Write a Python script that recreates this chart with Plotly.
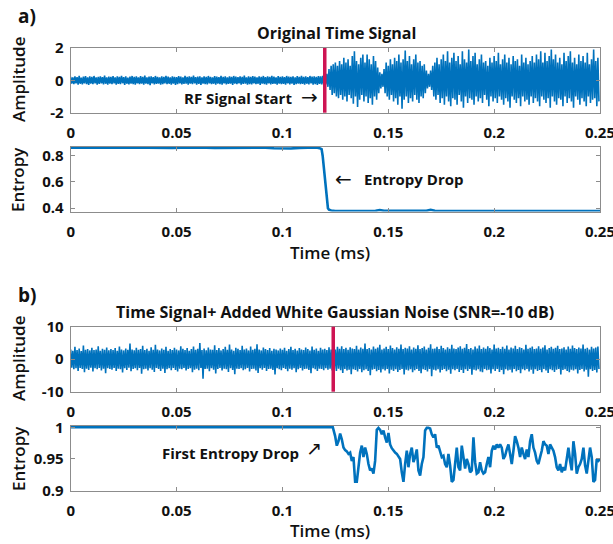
import plotly.graph_objects as go

W, H = 613, 544

# ---------------- data ----------------
TIME_TICKS = [0, 0.05, 0.1, 0.15, 0.2, 0.25]
TIME_TICK_LABELS = ["0", "0.05", "0.1", "0.15", "0.2", "0.25"]
BIN_MS = 0.001  # width of one min/max bin of the waveforms (ms)

# (a) original signal: per-bin max / min, 0 .. 0.249 ms
AMP_A_HI = [
    0.22, 0.18, 0.25, 0.20, 0.28, 0.17, 0.23, 0.26, 0.19, 0.24,
    0.21, 0.27, 0.18, 0.22, 0.25, 0.20, 0.30, 0.19, 0.23, 0.21,
    0.26, 0.18, 0.24, 0.22, 0.28, 0.20, 0.25, 0.17, 0.23, 0.27,
    0.21, 0.24, 0.19, 0.26, 0.22, 0.29, 0.18, 0.23, 0.25, 0.20,
    0.27, 0.22, 0.19, 0.24, 0.21, 0.28, 0.23, 0.18, 0.25, 0.22,
    0.20, 0.26, 0.23, 0.19, 0.27, 0.21, 0.24, 0.22, 0.30, 0.20,
    0.23, 0.25, 0.18, 0.24, 0.21, 0.27, 0.22, 0.19, 0.26, 0.23,
    0.20, 0.28, 0.22, 0.25, 0.19, 0.24, 0.21, 0.27, 0.23, 0.20,
    0.25, 0.22, 0.29, 0.19, 0.24, 0.21, 0.26, 0.23, 0.18, 0.25,
    0.22, 0.27, 0.20, 0.24, 0.21, 0.28, 0.23, 0.19, 0.26, 0.22,
    0.25, 0.20, 0.27, 0.23, 0.21, 0.24, 0.19, 0.26, 0.22, 0.28,
    0.21, 0.24, 0.20, 0.27, 0.23, 0.25, 0.22, 0.26, 0.24, 0.28,
    0.25, 0.4, 0.7, 0.9, 1.0, 1.1, 0.9, 1.2, 1.0, 1.4,
    1.1, 1.3, 0.9, 1.5, 1.8, 1.2, 1.0, 1.4, 1.6, 1.1,
    1.6, 1.3, 1.0, 1.5, 1.2, 0.8, 0.5, 0.4, 0.7, 1.1,
    0.9, 1.3, 1.0, 1.4, 1.2, 1.6, 1.1, 1.3, 1.85, 1.2,
    1.5, 1.0, 1.3, 1.6, 1.1, 1.2, 0.9, 1.0, 0.6, 0.4,
    0.6, 0.9, 1.1, 1.4, 1.0, 1.3, 1.6, 1.2, 1.8, 1.1,
    1.4, 1.7, 1.2, 1.5, 1.0, 1.8, 1.3, 1.1, 1.9, 1.2,
    1.5, 1.7, 1.0, 1.3, 1.6, 1.1, 1.2, 0.9, 1.4, 1.1,
    1.5, 1.2, 1.7, 1.0, 1.3, 1.6, 1.1, 1.4, 1.0, 1.5,
    1.2, 1.3, 0.9, 1.6, 1.1, 1.4, 1.0, 1.2, 1.5, 1.1,
    1.6, 1.3, 1.8, 1.1, 1.7, 1.2, 1.5, 1.9, 1.3, 1.6,
    1.1, 1.4, 1.0, 1.7, 1.2, 1.5, 1.8, 1.1, 1.4, 1.0,
    1.6, 1.2, 1.5, 1.1, 1.7, 1.0, 1.3, 1.9, 1.2, 1.4,
]
AMP_A_LO = [
    -0.20, -0.24, -0.18, -0.27, -0.21, -0.25, -0.19, -0.23, -0.28, -0.20,
    -0.24, -0.19, -0.26, -0.22, -0.18, -0.25, -0.21, -0.27, -0.20, -0.23,
    -0.19, -0.26, -0.22, -0.24, -0.18, -0.28, -0.21, -0.25, -0.20, -0.23,
    -0.27, -0.19, -0.24, -0.21, -0.26, -0.20, -0.23, -0.29, -0.19, -0.25,
    -0.22, -0.20, -0.27, -0.23, -0.19, -0.24, -0.21, -0.26, -0.20, -0.28,
    -0.23, -0.19, -0.25, -0.22, -0.20, -0.27, -0.21, -0.24, -0.19, -0.26,
    -0.22, -0.28, -0.20, -0.23, -0.25, -0.19, -0.24, -0.21, -0.27, -0.20,
    -0.23, -0.26, -0.19, -0.25, -0.22, -0.20, -0.28, -0.21, -0.24, -0.19,
    -0.26, -0.22, -0.20, -0.27, -0.23, -0.25, -0.19, -0.24, -0.21, -0.28,
    -0.20, -0.23, -0.26, -0.19, -0.25, -0.22, -0.21, -0.27, -0.20, -0.24,
    -0.22, -0.26, -0.19, -0.25, -0.21, -0.28, -0.23, -0.20, -0.24, -0.22,
    -0.27, -0.21, -0.25, -0.19, -0.26, -0.23, -0.28, -0.22, -0.25, -0.27,
    -0.25, -0.4, -0.6, -0.9, -0.8, -1.0, -1.1, -0.9, -1.2, -1.0,
    -1.3, -0.9, -1.1, -1.45, -1.0, -1.65, -1.2, -0.9, -1.3, -1.0,
    -1.4, -1.1, -1.5, -1.0, -1.2, -0.8, -0.5, -0.4, -0.8, -1.0,
    -1.2, -0.9, -1.3, -1.1, -1.5, -1.0, -1.75, -1.2, -1.0, -1.4,
    -1.1, -1.3, -0.9, -1.2, -1.4, -1.0, -1.1, -0.8, -0.5, -0.4,
    -0.6, -1.0, -1.2, -0.9, -1.4, -1.1, -1.5, -1.0, -1.3, -1.6,
    -1.1, -1.2, -1.5, -0.9, -1.3, -1.7, -1.0, -1.4, -1.1, -1.2,
    -1.5, -1.0, -1.3, -1.1, -1.4, -0.9, -1.2, -1.6, -1.0, -1.3,
    -1.1, -1.4, -1.0, -1.2, -1.5, -1.1, -1.3, -1.7, -1.0, -1.2,
    -1.4, -1.1, -1.6, -1.0, -1.3, -1.2, -1.5, -1.0, -1.4, -1.1,
    -1.3, -1.6, -1.0, -1.2, -1.4, -1.1, -1.7, -1.0, -1.3, -1.5,
    -1.1, -1.2, -1.6, -1.0, -1.4, -1.1, -1.3, -1.7, -1.0, -1.2,
    -1.5, -1.1, -1.3, -1.6, -1.0, -1.4, -1.2, -1.1, -1.6, -1.3,
]

# (b) signal + white gaussian noise: per-bin max / min, 0 .. 0.249 ms
AMP_B_HI = [
    3.0, 2.6, 3.8, 2.8, 3.3, 2.5, 4.2, 2.9, 3.1, 2.7,
    3.5, 2.8, 3.0, 4.0, 2.6, 3.2, 2.9, 3.6, 2.7, 3.1,
    2.8, 3.4, 2.6, 3.9, 3.0, 2.7, 3.3, 2.9, 4.8, 3.0,
    2.7, 3.5, 2.9, 3.1, 4.1, 2.8, 3.2, 2.6, 3.7, 2.9,
    4.4, 3.0, 2.7, 3.3, 2.9, 3.8, 2.6, 3.1, 2.8, 3.5,
    3.0, 2.7, 4.0, 3.2, 2.8, 3.4, 2.6, 3.1, 3.9, 2.9,
    3.2, 5.0, 2.8, 3.3, 2.7, 3.6, 3.0, 2.9, 4.3, 2.8,
    3.4, 2.7, 3.1, 3.8, 2.9, 4.5, 3.0, 2.6, 3.5, 3.2,
    2.8, 4.1, 3.0, 3.3, 2.7, 3.9, 2.9, 3.2, 4.6, 3.0,
    2.7, 3.6, 3.1, 2.8, 3.4, 2.6, 3.2, 3.0, 2.7, 3.3,
    2.9, 3.5, 2.6, 3.1, 3.8, 2.8, 3.2, 2.7, 3.4, 3.0,
    2.8, 3.6, 3.1, 2.7, 3.9, 2.9, 3.3, 2.6, 3.5, 3.0,
    3.2, 2.8, 3.7, 3.0,
    3.3, 3.0, 3.8, 3.2, 4.0, 3.1, 3.5, 2.9, 3.7, 3.3,
    3.1, 4.1, 3.0, 3.6, 3.2, 4.8, 3.1, 3.4, 3.0, 3.9,
    3.2, 3.6, 4.4, 3.0, 3.3, 3.8, 3.1, 4.2, 3.4, 3.0,
    3.7, 3.2, 4.5, 3.1, 3.5, 3.3, 4.0, 3.0, 3.6, 3.2,
    4.3, 3.1, 3.4, 3.9, 3.0, 3.5, 4.6, 3.2, 3.3, 3.8,
    3.1, 4.1, 3.4, 3.0, 3.7, 3.2, 4.4, 3.3, 3.1, 3.6,
    4.0, 3.2, 3.5, 4.7, 3.1, 3.4, 3.0, 3.9, 3.3, 4.2,
    3.1, 3.6, 3.2, 4.0, 3.4, 3.0, 4.5, 3.3, 3.5, 3.1,
    3.8, 3.2, 4.2, 3.0, 3.6, 3.3, 4.1, 3.1, 3.7, 3.4,
    3.0, 4.4, 3.2, 3.5, 3.9, 3.1, 3.3, 4.0, 3.2, 3.6,
    4.3, 3.0, 3.4, 3.8, 3.2, 3.5, 4.1, 3.1, 3.3, 3.7,
    3.0, 3.9, 3.2, 4.2, 3.4, 3.1, 3.6, 3.3, 4.5, 3.2,
    3.5, 3.0, 3.8, 3.3, 3.6, 3.9,
]
AMP_B_LO = [
    -2.6, -3.1, -2.8, -3.6, -2.7, -3.0, -4.0, -2.9, -3.3, -2.6,
    -3.8, -2.8, -3.1, -2.7, -3.5, -2.9, -4.3, -2.8, -3.0, -3.2,
    -2.7, -3.6, -2.9, -3.1, -4.1, -2.8, -3.3, -2.6, -3.7, -3.0,
    -2.8, -3.4, -2.7, -4.5, -3.1, -2.9, -3.5, -2.8, -3.2, -3.9,
    -2.7, -3.0, -3.6, -2.9, -4.2, -3.1, -2.8, -3.4, -2.7, -3.3,
    -3.8, -2.9, -3.1, -2.7, -3.5, -3.0, -2.8, -4.0, -3.2, -2.9,
    -3.4, -2.7, -6.0, -3.0, -2.9, -3.7, -2.8, -3.2, -4.4, -3.0,
    -2.7, -3.5, -2.9, -3.1, -3.9, -2.8, -3.3, -4.6, -2.9, -3.0,
    -2.8, -3.4, -3.1, -2.7, -3.8, -3.0, -2.9, -3.5, -4.2, -2.8,
    -3.2, -2.7, -3.6, -3.0, -2.9, -3.3, -4.7, -2.8, -3.1, -3.4,
    -2.7, -3.0, -3.7, -2.9, -3.2, -2.8, -4.0, -3.1, -2.7, -3.5,
    -3.0, -2.9, -3.3, -4.3, -2.8, -3.1, -3.6, -2.9, -3.0, -3.4,
    -2.8, -3.2, -2.9, -3.5,
    -3.1, -3.6, -2.9, -3.4, -4.2, -3.0, -3.5, -3.2, -4.6, -3.1,
    -3.3, -3.8, -3.0, -4.0, -3.4, -3.1, -3.6, -4.9, -3.2, -3.0,
    -3.7, -3.3, -4.1, -3.1, -3.5, -3.0, -4.4, -3.2, -3.6, -3.1,
    -3.9, -3.3, -3.0, -4.7, -3.2, -3.5, -3.1, -4.0, -3.4, -3.0,
    -3.6, -4.3, -3.1, -3.3, -3.8, -3.0, -5.2, -3.2, -3.5, -3.1,
    -4.1, -3.3, -3.0, -3.7, -3.2, -4.5, -3.1, -3.4, -3.0, -3.9,
    -3.3, -4.2, -3.1, -3.6, -3.0, -4.8, -3.2, -3.5, -3.1, -3.8,
    -4.0, -3.0, -3.4, -3.2, -4.4, -3.1, -3.6, -3.0, -3.9, -3.3,
    -4.6, -3.1, -3.5, -3.2, -4.1, -3.0, -3.7, -3.3, -4.3, -3.1,
    -3.4, -3.0, -3.8, -3.2, -4.5, -3.1, -3.6, -3.3, -4.0, -3.0,
    -3.5, -4.2, -3.1, -3.4, -3.9, -3.2, -3.0, -4.7, -3.3, -3.1,
    -3.6, -4.0, -3.2, -3.5, -3.1, -4.4, -3.3, -3.0, -3.8, -3.2,
    -5.4, -3.1, -3.6, -3.3, -4.1, -3.0,
]

# (a) entropy
ENT_A_T = [
    0.000, 0.004, 0.008, 0.012, 0.016, 0.020, 0.024, 0.028, 0.032, 0.036,
    0.040, 0.044, 0.048, 0.052, 0.056, 0.060, 0.064, 0.068, 0.072, 0.076,
    0.080, 0.084, 0.088, 0.092, 0.096, 0.100, 0.104, 0.108, 0.112, 0.116,
    0.1175, 0.1185, 0.119, 0.1195, 0.120, 0.1205, 0.121, 0.1215, 0.122, 0.123, 0.125,
    0.128, 0.132, 0.136, 0.140, 0.144, 0.146, 0.148, 0.152, 0.156, 0.160,
    0.164, 0.168, 0.170, 0.172, 0.176, 0.180, 0.184, 0.188, 0.192, 0.196,
    0.200, 0.204, 0.208, 0.212, 0.216, 0.220, 0.224, 0.228, 0.232, 0.236,
    0.240, 0.244, 0.248, 0.250,
]
ENT_A_V = [
    0.860, 0.861, 0.860, 0.859, 0.861, 0.862, 0.860, 0.858, 0.860, 0.861,
    0.859, 0.857, 0.859, 0.861, 0.862, 0.861, 0.860, 0.859, 0.860, 0.861,
    0.860, 0.858, 0.859, 0.860, 0.856, 0.853, 0.855, 0.859, 0.861, 0.862,
    0.857, 0.850, 0.800, 0.720, 0.620, 0.520, 0.440, 0.400, 0.388, 0.382, 0.379,
    0.378, 0.379, 0.378, 0.379, 0.380, 0.386, 0.380, 0.379, 0.378, 0.379,
    0.378, 0.380, 0.388, 0.380, 0.379, 0.378, 0.379, 0.378, 0.379, 0.378,
    0.378, 0.379, 0.378, 0.379, 0.378, 0.379, 0.378, 0.378, 0.379, 0.378,
    0.379, 0.378, 0.379, 0.378,
]

# (b) entropy: flat part, then regularly spaced readings
ENT_B_FLAT_T = [0.0, 0.1238]
ENT_B_FLAT_V = [1.0, 1.0]
ENT_B_T0 = 0.1249
ENT_B_STEP = 0.000787
ENT_B_V = [
    0.986, 0.971, 0.978, 0.990, 0.981, 0.968, 0.964, 0.962, 0.958, 0.960,
    0.947, 0.953, 0.914, 0.914, 0.937, 0.960, 0.971, 0.953, 0.968, 0.958,
    0.942, 0.932, 0.935, 0.927, 0.947, 0.996, 0.999, 0.996, 0.989, 0.995,
    0.984, 0.976, 0.991, 0.973, 0.967, 0.963, 0.960, 0.958, 0.953, 0.950,
    0.929, 0.914, 0.942, 0.963, 0.937, 0.958, 0.968, 0.945, 0.953, 0.965,
    0.932, 0.924, 0.942, 0.953, 0.995, 0.999, 0.999, 0.998, 0.989, 0.984,
    0.989, 0.968, 0.971, 0.960, 0.953, 0.955, 0.942, 0.937, 0.958, 0.940,
    0.914, 0.917, 0.942, 0.968, 0.937, 0.932, 0.971, 0.953, 0.935, 0.950,
    0.942, 0.929, 0.932, 0.984, 0.945, 0.927, 0.929, 0.945, 0.932, 0.927,
    0.929, 0.942, 0.953, 0.937, 0.963, 0.971, 0.965, 0.973, 0.968, 0.973,
    0.968, 0.950, 0.955, 0.965, 0.973, 0.958, 0.942, 0.963, 0.986, 0.978,
    0.968, 0.953, 0.968, 0.958, 0.950, 0.965, 0.953, 0.978, 0.989, 0.968,
    0.960, 0.947, 0.942, 0.953, 0.963, 0.978, 0.973, 0.971, 0.958, 0.973,
    0.968, 0.963, 0.953, 0.937, 0.932, 0.942, 0.929, 0.937, 0.932, 0.947,
    0.968, 0.947, 0.932, 0.978, 0.958, 0.927, 0.937, 0.942, 0.950, 0.968,
    0.940, 0.927, 0.953, 0.968, 0.953, 0.914, 0.917, 0.950, 0.947, 0.950,
]

RF_START_A = 0.120
RF_START_B = 0.124

# ---------------- styling ----------------
BLUE = "#0072BD"
RED = "#CE1453"
FRAME = "#8c8c8c"
FONT = "Open Sans"


def zigzag(hi, lo):
    xs, ys = [], []
    n = min(len(hi), len(lo))
    for i in range(n):
        t = i * BIN_MS
        xs += [t, t + BIN_MS / 2]
        ys += [hi[i], lo[i]]
    return xs, ys


def px(x):
    return x / W


def py(y):
    return 1 - y / H


fig = go.Figure()

xa, ya = zigzag(AMP_A_HI, AMP_A_LO)
fig.add_trace(go.Scatter(x=xa, y=ya, mode="lines", line=dict(color=BLUE, width=1.6),
                         xaxis="x", yaxis="y", hoverinfo="skip"))
fig.add_trace(go.Scatter(x=ENT_A_T, y=ENT_A_V, mode="lines", line=dict(color=BLUE, width=2.6),
                         xaxis="x2", yaxis="y2"))
xb, yb = zigzag(AMP_B_HI, AMP_B_LO)
fig.add_trace(go.Scatter(x=xb, y=yb, mode="lines", line=dict(color=BLUE, width=1.6),
                         xaxis="x3", yaxis="y3", hoverinfo="skip"))
ent_b_t = ENT_B_FLAT_T + [ENT_B_T0 + k * ENT_B_STEP for k in range(len(ENT_B_V))]
ent_b_v = ENT_B_FLAT_V + ENT_B_V
fig.add_trace(go.Scatter(x=ent_b_t, y=ent_b_v, mode="lines", line=dict(color=BLUE, width=2.6),
                         xaxis="x4", yaxis="y4"))

x_dom = [px(70.7), px(600)]
panels = [  # (top px, bottom px, yrange, yticks, yticklabels)
    (48, 112.7, [-2, 2], [-2, 0, 2], ["-2", "0", "2"]),
    (147, 211.5, [0.375, 0.866], [0.4, 0.6, 0.8], ["0.4", "0.6", "0.8"]),
    (326.7, 391.7, [-10, 10], [-10, 0, 10], ["-10", "0", "10"]),
    (426, 490.7, [0.9, 1.002], [0.9, 0.95, 1.0], ["0.9", "0.95", "1"]),
]

tick_font = dict(family=FONT, size=15, color="#111", weight="bold")
layout = dict(
    width=W, height=H, autosize=False,
    margin=dict(l=0, r=0, t=0, b=0, pad=0, autoexpand=False),
    paper_bgcolor="white", plot_bgcolor="white",
    showlegend=False,
)
for k, (top, bot, yr, yt, ytl) in enumerate(panels, start=1):
    sfx = "" if k == 1 else str(k)
    layout["xaxis" + sfx] = dict(
        domain=x_dom, anchor="y" + sfx, range=[0, 0.25],
        tickvals=TIME_TICKS, ticktext=TIME_TICK_LABELS,
        ticks="inside", ticklen=4, tickcolor=FRAME, tickwidth=1,
        showline=True, linecolor=FRAME, linewidth=1, mirror="ticks",
        showgrid=False, zeroline=False, tickfont=tick_font,
        ticklabelstandoff=6, automargin=False, ticklabeloverflow="allow",
    )
    layout["yaxis" + sfx] = dict(
        domain=[py(bot), py(top)], anchor="x" + sfx, range=yr,
        tickvals=yt, ticktext=ytl,
        ticks="inside", ticklen=4, tickcolor=FRAME, tickwidth=1,
        showline=True, linecolor=FRAME, linewidth=1, mirror="ticks",
        showgrid=False, zeroline=False, tickfont=tick_font,
        ticklabelstandoff=3, automargin=False, ticklabeloverflow="allow",
    )
fig.update_layout(**layout)

# red "RF start" markers
fig.add_shape(type="line", xref="x", yref="y domain", x0=RF_START_A, x1=RF_START_A, y0=0, y1=1,
              line=dict(color=RED, width=3.5), layer="above")
fig.add_shape(type="line", xref="x3", yref="y3 domain", x0=RF_START_B, x1=RF_START_B, y0=0, y1=1,
              line=dict(color=RED, width=3.5), layer="above")


def text(x, y, s, size=15, weight="bold", xanchor="center", angle=0, family=FONT):
    fig.add_annotation(x=px(x), y=py(y), xref="paper", yref="paper", text=s, showarrow=False,
                       xanchor=xanchor, yanchor="middle", textangle=angle,
                       font=dict(family=family, size=size, color="#111", weight=weight))


text(16, 16, "a)", size=19, xanchor="left")
text(336, 33, "Original Time Signal", size=16)
text(16, 295, "b)", size=19, xanchor="left")
text(335, 312, "Time Signal+ Added White Gaussian Noise (SNR=-10 dB)", size=16)

text(18, 80, "Amplitude", size=17, weight=600, angle=-90)
text(18, 180, "Entropy", size=17, weight=600, angle=-90)
text(18, 359, "Amplitude", size=17, weight=600, angle=-90)
text(18, 459, "Entropy", size=17, weight=600, angle=-90)
text(330, 252, "Time (ms)", size=17, weight=600)
text(330, 530, "Time (ms)", size=17, weight=600)

text(294, 98, "RF Signal Start", size=15, xanchor="right")
text(309, 97, "\u2192", size=20, weight="normal", family="DejaVu Sans")
text(343, 179, "\u2190", size=20, weight="normal", family="DejaVu Sans")
text(362, 179, "Entropy Drop", size=15, xanchor="left")
text(160, 453, "First Entropy Drop", size=15, xanchor="left")
text(314, 448, "\u2197", size=19, weight="normal", family="DejaVu Sans")

fig.write_html(
    "out.html",
    config={"displayModeBar": False},
    post_script="document.body.style.margin='0';document.body.style.padding='0';",
)
